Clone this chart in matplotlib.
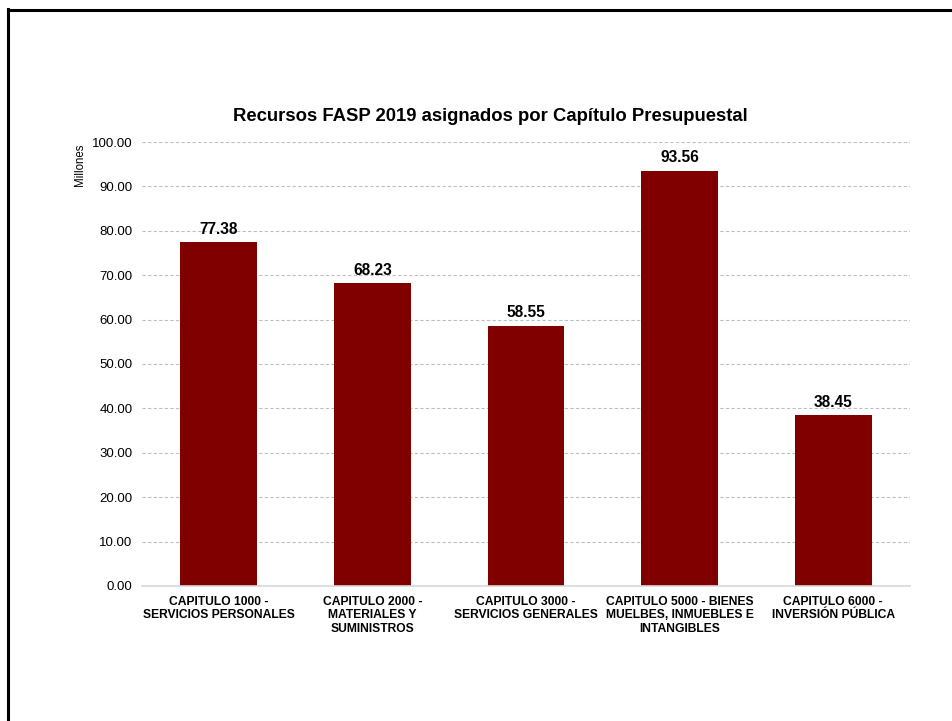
import matplotlib
matplotlib.use("Agg")
import matplotlib.pyplot as plt
from matplotlib.lines import Line2D

plt.rcParams['font.family'] = ['Liberation Sans', 'DejaVu Sans']

categorias = ['CAPITULO 1000 -\nSERVICIOS PERSONALES',
              'CAPITULO 2000 -\nMATERIALES Y\nSUMINISTROS',
              'CAPITULO 3000 -\nSERVICIOS GENERALES',
              'CAPITULO 5000 - BIENES\nMUELBES, INMUEBLES E\nINTANGIBLES',
              'CAPITULO 6000 -\nINVERSIÓN PÚBLICA']
valores = [77.38, 68.23, 58.55, 93.56, 38.45]
yticks = [0, 10, 20, 30, 40, 50, 60, 70, 80, 90, 100]

fig = plt.figure(figsize=(9.52, 7.21), dpi=100)
ax = fig.add_axes([0.1492, 0.1873, 0.8067, 0.6157])

x = range(len(valores))
barras = ax.bar(x, valores, width=0.5, color='#800000', zorder=3)
for b, v in zip(barras, valores):
    ax.annotate(f'{v:.2f}', (b.get_x() + b.get_width() / 2, v),
                xytext=(0, 4), textcoords='offset points',
                ha='center', va='bottom', fontsize=11.2, fontweight='bold')

ax.set_xlim(-0.5, len(valores) - 0.5)
ax.set_ylim(0, 100)
ax.set_yticks(yticks)
ax.set_yticklabels([f'{t:.2f}' for t in yticks], fontsize=9.5)
ax.set_xticks(list(x))
ax.set_xticklabels(categorias, fontsize=8.7, fontweight='bold', linespacing=1.12)
ax.tick_params(axis='both', length=0)
ax.tick_params(axis='y', pad=7)
ax.tick_params(axis='x', pad=7.5)
ax.grid(axis='y', color='#BFBFBF', linestyle=(0, (3, 2)), linewidth=0.8, zorder=0)
for s in ['top', 'right', 'left']:
    ax.spines[s].set_visible(False)
ax.spines['bottom'].set_color('#D9D9D9')
ax.spines['bottom'].set_linewidth(1.2)
ax.spines['bottom'].set_zorder(4)

fig.text(0.515, 0.839, 'Recursos FASP 2019 asignados por Capítulo Presupuestal',
         ha='center', va='center', fontsize=13.3, fontweight='bold')
fig.text(0.084, 0.771, 'Millones', rotation=90, ha='center', va='center', fontsize=8.3)

# marco del grafico (solo arriba e izquierda visibles)
fig.add_artist(Line2D([7.5 / 952, 1.0], [1 - 10 / 721, 1 - 10 / 721],
                      color='black', linewidth=2.2, transform=fig.transFigure))
fig.add_artist(Line2D([8 / 952, 8 / 952], [1 - 9 / 721, 0.0],
                      color='black', linewidth=2.2, transform=fig.transFigure))

fig.savefig('out.png', dpi=100)
